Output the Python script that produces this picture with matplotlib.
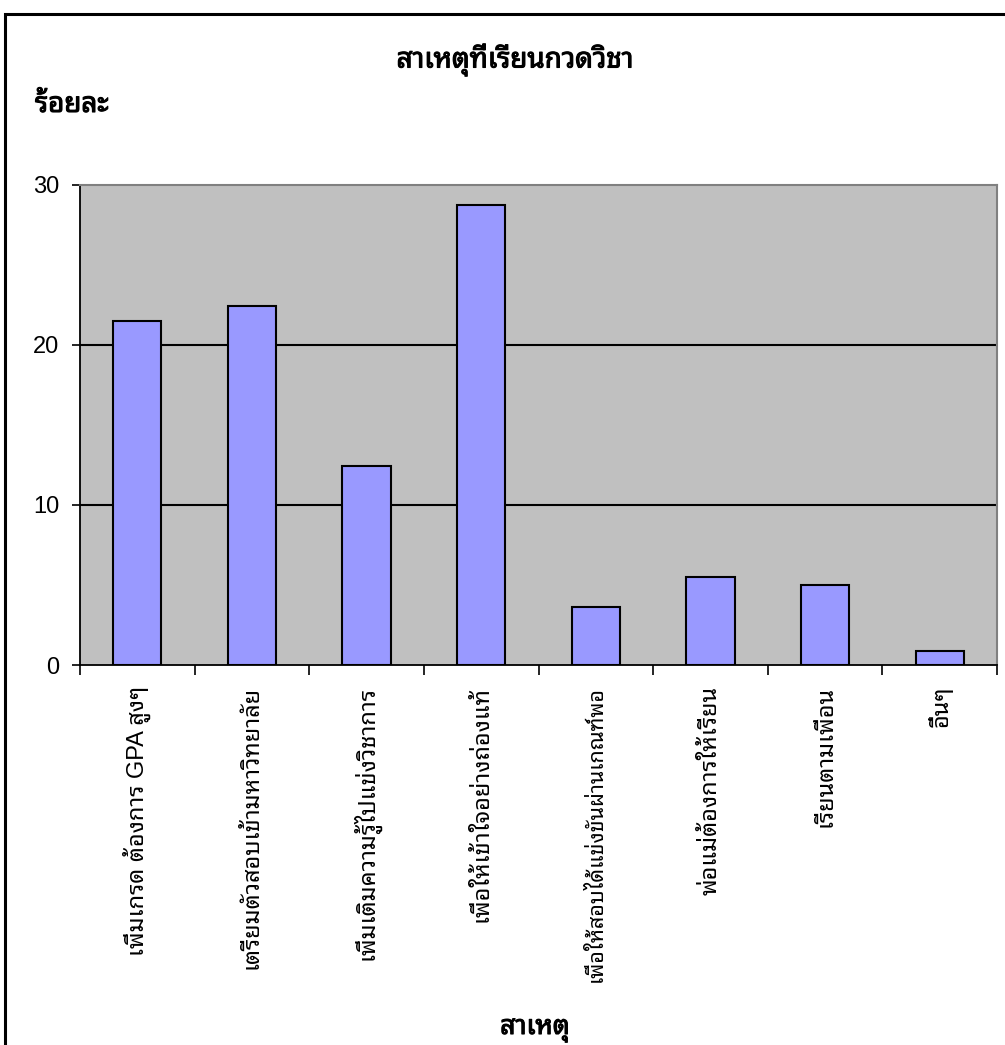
import matplotlib
matplotlib.use("Agg")
import matplotlib.pyplot as plt
import matplotlib.patheffects as pe
from matplotlib import font_manager
from matplotlib.ft2font import FT2Font
from matplotlib.patches import Rectangle

# Survey data: reasons for attending tutoring school (percent)
categories = [
    "เพิ่มเกรด ต้องการ GPA สูงๆ",
    "เตรียมตัวสอบเข้ามหาวิทยาลัย",
    "เพิ่มเติมความรู้ไปแข่งวิชาการ",
    "เพื่อให้เข้าใจอย่างถ่องแท้",
    "เพื่อให้สอบได้แข่งขันผ่านเกณฑ์พอ",
    "พ่อแม่ต้องการให้เรียน",
    "เรียนตามเพื่อน",
    "อื่นๆ",
]
percent = [21.5, 22.4, 12.4, 28.7, 3.6, 5.5, 5.0, 0.9]
y_ticks = [0, 10, 20, 30]

title_text = "สาเหตุที่เรียนกวดวิชา"
y_title = "ร้อยละ"
x_title = "สาเหตุ"


def find_thai_font():
    """Return the family name of an installed font that has Thai glyphs,
    preferring looped designs."""
    found = []
    for fe in font_manager.fontManager.ttflist:
        try:
            f = FT2Font(fe.fname)
            if f.get_char_index(0x0E2A) and f.get_char_index(0x0E40):
                found.append(fe.name)
        except Exception:
            continue
    if not found:
        return None
    preferred = ["Tahoma", "Noto Sans Thai Looped", "Loma", "Garuda",
                 "Tlwg Typo", "Noto Sans Thai", "Noto Serif Thai"]
    for name in preferred:
        if name in found:
            return name
    found.sort(key=lambda n: (("Looped" not in n), ("Thai" not in n), n))
    return found[0]


thai = find_thai_font()
families = ["Liberation Sans"] + ([thai] if thai else []) + ["DejaVu Sans"]
plt.rcParams["font.family"] = families

# Heavier strokes for the chart titles
bold = [pe.withStroke(linewidth=0.8, foreground="black")]

W, H = 1005, 1045
fig = plt.figure(figsize=(W / 100, H / 100), dpi=100)
fig.patch.set_facecolor("white")

# Outer chart frame
fig.add_artist(Rectangle((5 / W, -0.01), 1.02, 1 - 14 / H + 0.01,
                         transform=fig.transFigure, fill=False,
                         edgecolor="black", linewidth=2.2, clip_on=False))

ax = fig.add_axes([80 / W, 1 - 665 / H, (997 - 80) / W, (665 - 184.5) / H])
ax.set_facecolor("#C0C0C0")

x = list(range(len(categories)))
ax.bar(x, percent, width=0.42, color="#9999FF", edgecolor="black",
       linewidth=1.5, zorder=3)

ax.set_xlim(-0.5, len(categories) - 0.5)
ax.set_ylim(0, 30)
ax.set_yticks(y_ticks)
ax.set_yticklabels([str(v) for v in y_ticks], fontsize=17)
ax.tick_params(axis="y", direction="out", length=6, width=1.2, pad=9)

ax.set_xticks(x)
ax.set_xticklabels(categories, rotation=90, fontsize=17, va="top", ha="center")
# the longest category name is set slightly smaller so it clears the axis title
ax.get_xticklabels()[4].set_fontsize(15.5)
ax.tick_params(axis="x", which="major", length=0, pad=15)
ax.set_xticks([i - 0.5 for i in range(len(categories) + 1)], minor=True)
ax.tick_params(axis="x", which="minor", direction="out", length=7, width=1.2)

for v in y_ticks[1:-1]:
    ax.axhline(v, color="black", linewidth=1.5, zorder=1)

for side in ("top", "right"):
    ax.spines[side].set_color("#808080")
    ax.spines[side].set_linewidth(1.5)
for side in ("left", "bottom"):
    ax.spines[side].set_color("black")
    ax.spines[side].set_linewidth(1.3)

fig.text(515 / W, 1 - 60 / H, title_text, ha="center", va="center",
         fontsize=20, path_effects=bold)
fig.text(35 / W, 1 - 105 / H, y_title, ha="left", va="center",
         fontsize=20, path_effects=bold)
fig.text(535 / W, 1 - 1030 / H, x_title, ha="center", va="center",
         fontsize=19, path_effects=bold)

fig.savefig("out.png", dpi=100)
